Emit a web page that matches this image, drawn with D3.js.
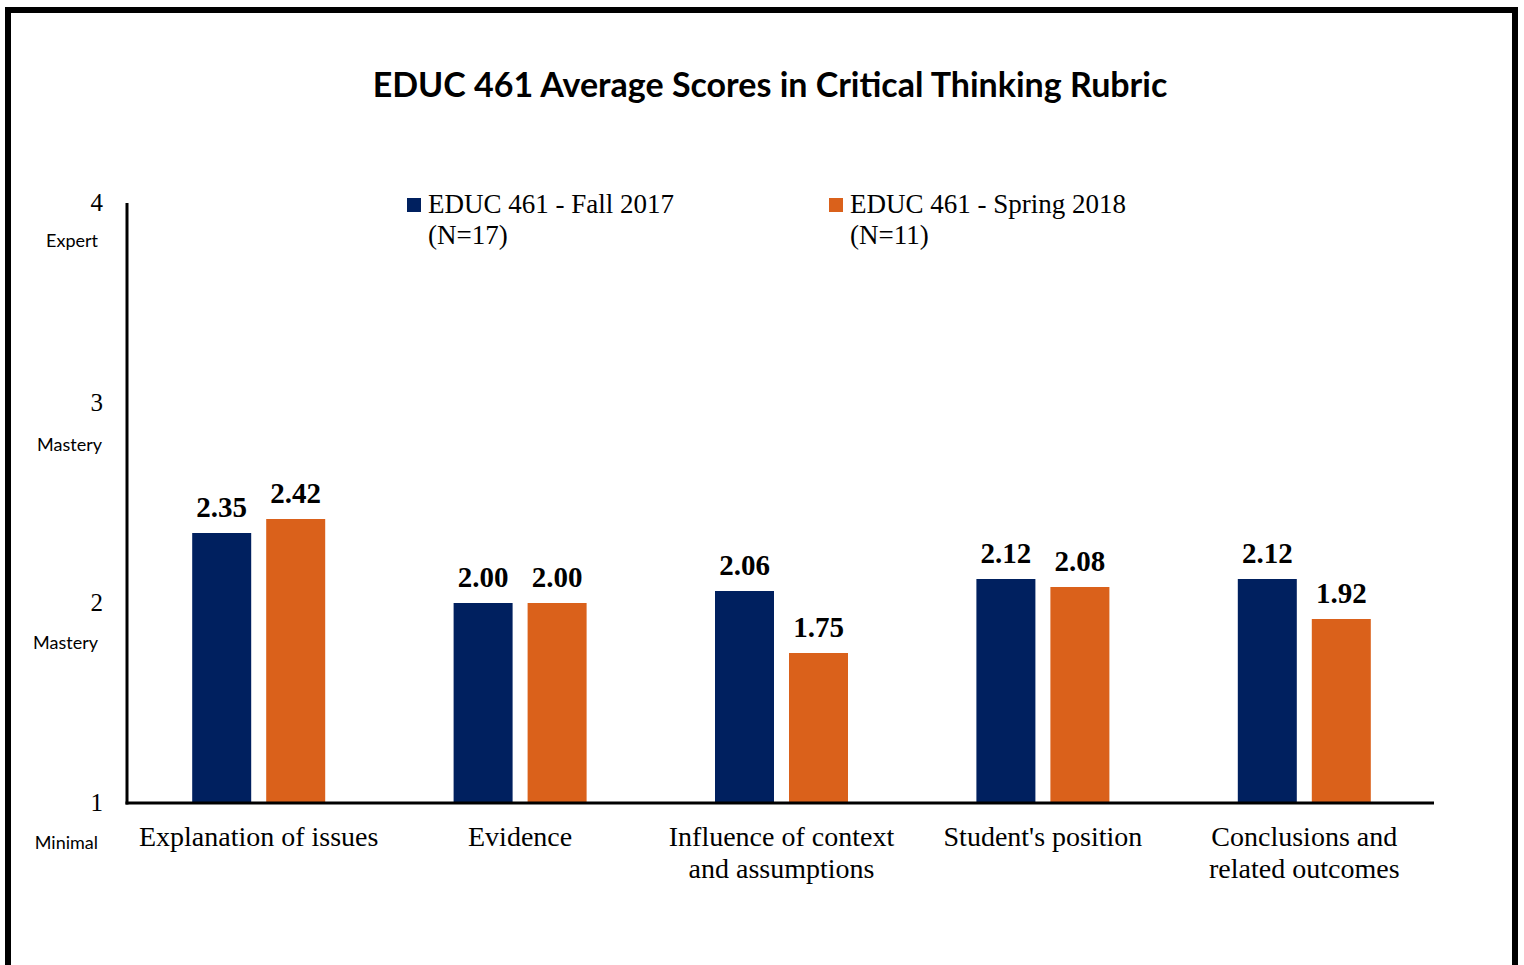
<!DOCTYPE html>
<html><head><meta charset="utf-8">
<script src="https://cdn.jsdelivr.net/npm/d3@7"></script>
<style>
html,body{margin:0;padding:0;background:#fff;}
svg{display:block;}
</style></head>
<body>
<svg id="chart" width="1524" height="965"></svg>
<script>
const categories = [
  ["Explanation of issues"],
  ["Evidence"],
  ["Influence of context", "and assumptions"],
  ["Student's position"],
  ["Conclusions and", "related outcomes"]
];
const seriesNames = [["EDUC 461 - Fall 2017", "(N=17)"], ["EDUC 461 - Spring 2018", "(N=11)"]];
const fall2017 = [2.35, 2.00, 2.06, 2.12, 2.12];
const spring2018 = [2.42, 2.00, 1.75, 2.08, 1.92];
const yTicks = [1, 2, 3, 4];
const yTickLevels = ["Minimal", "Mastery", "Mastery", "Expert"];
const colors = ["#00205F", "#DA611B"];

const serif = "'Liberation Serif', 'DejaVu Serif', serif";
const sans = "Lato, 'Open Sans', sans-serif";

const svg = d3.select("#chart");
// frame
svg.append("rect").attr("x", 8).attr("y", 10).attr("width", 1507).attr("height", 970)
  .attr("fill", "none").attr("stroke", "#000").attr("stroke-width", 6);

const m = {left: 127, right: 1434, top: 203, bottom: 803};
const x = d3.scaleBand().domain(d3.range(categories.length)).range([m.left + 1, m.right + 1]);
const y = d3.scaleLinear().domain([1, 4]).range([m.bottom, m.top]);
const barW = 59, gap = 15;

// title
svg.append("text").attr("x", 770).attr("y", 97).attr("text-anchor", "middle")
  .attr("font-family", sans).attr("font-weight", "bold").attr("font-size", 34)
  .text("EDUC 461 Average Scores in Critical Thinking Rubric");

// bars
const series = [fall2017, spring2018];
series.forEach((vals, si) => {
  const g = svg.append("g");
  vals.forEach((v, i) => {
    const cx = x(i) + x.bandwidth() / 2;
    const bx = si === 0 ? cx - gap / 2 - barW : cx + gap / 2;
    g.append("rect").attr("x", bx).attr("y", y(v)).attr("width", barW)
      .attr("height", y(1) - y(v)).attr("fill", colors[si]);
    g.append("text").attr("x", bx + barW / 2).attr("y", y(v) - 16)
      .attr("text-anchor", "middle").attr("font-family", serif).attr("font-weight", "bold")
      .attr("font-size", 29).attr("fill", "#000").text(v.toFixed(2));
  });
});

// axes lines
svg.append("line").attr("x1", m.left).attr("x2", m.left).attr("y1", m.top).attr("y2", m.bottom + 1.5)
  .attr("stroke", "#000").attr("stroke-width", 3);
svg.append("line").attr("x1", m.left - 1.5).attr("x2", m.right).attr("y1", m.bottom).attr("y2", m.bottom)
  .attr("stroke", "#000").attr("stroke-width", 3);

// y tick labels
const levelOffsets = [46, 46, 48, 44];
yTicks.forEach((t, i) => {
  svg.append("text").attr("x", 103).attr("y", y(t) + 8).attr("text-anchor", "end")
    .attr("font-family", serif).attr("font-size", 25).text(t);
  svg.append("text").attr("x", i === 2 ? 102 : 98).attr("y", y(t) + levelOffsets[i]).attr("text-anchor", "end")
    .attr("font-family", sans).attr("font-size", 18).text(yTickLevels[i]);
});

// x labels
categories.forEach((lines, i) => {
  const t = svg.append("text").attr("text-anchor", "middle")
    .attr("font-family", serif).attr("font-size", 28);
  lines.forEach((ln, j) => {
    t.append("tspan").attr("x", x(i) + x.bandwidth() / 2).attr("y", 846 + j * 32).text(ln);
  });
});

// legend
const legX = [407, 829];
seriesNames.forEach((nm, si) => {
  svg.append("rect").attr("x", legX[si]).attr("y", 198).attr("width", 14).attr("height", 14)
    .attr("fill", colors[si]);
  const t = svg.append("text").attr("font-family", serif).attr("font-size", 27);
  nm.forEach((ln, j) => {
    t.append("tspan").attr("x", legX[si] + 21).attr("y", 213 + j * 31).text(ln);
  });
});
</script>
</body></html>
